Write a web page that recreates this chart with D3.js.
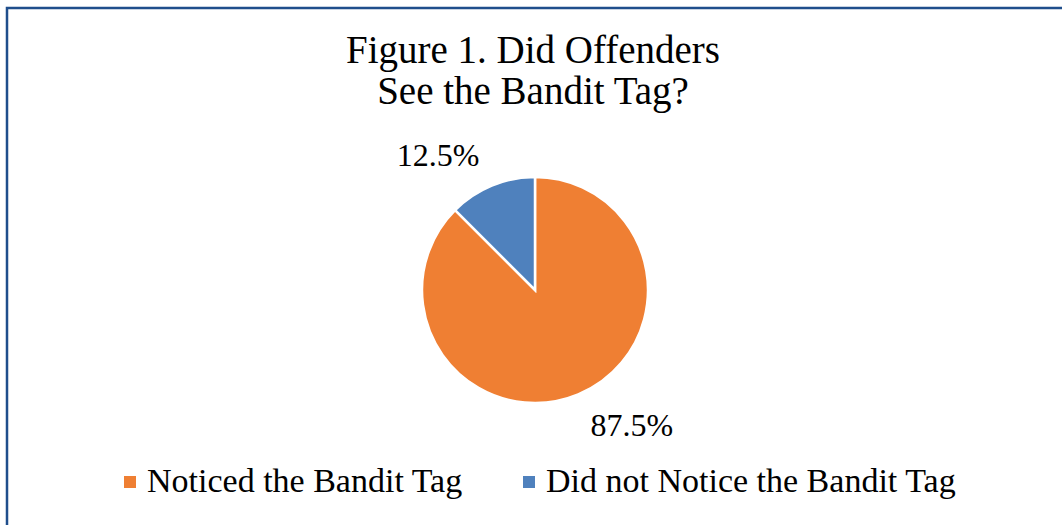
<!DOCTYPE html>
<html>
<head>
<meta charset="utf-8">
<script src="https://cdn.jsdelivr.net/npm/d3@7"></script>
<style>
  html, body { margin: 0; padding: 0; background: #fff; }
  svg { display: block; }
  text { font-family: 'Liberation Serif', 'Times New Roman', serif; fill: #000; }
</style>
</head>
<body>
<svg id="chart"></svg>
<script>
var categories = ['Noticed the Bandit Tag', 'Did not Notice the Bandit Tag'];
var shares = [87.5, 12.5];
var labels = ['87.5%', '12.5%'];
var titleLines = ['Figure 1. Did Offenders', 'See the Bandit Tag?'];
var colors = ['#EF7F33', '#4F81BD'];

var width = 1062, height = 525;
var cx = 535, cy = 290, radius = 113;

var svg = d3.select('#chart')
  .attr('width', width)
  .attr('height', height);

// chart frame (only top and left edges fall inside the picture)
svg.append('rect')
  .attr('x', 7)
  .attr('y', 8)
  .attr('width', width + 20)
  .attr('height', height + 20)
  .attr('fill', 'none')
  .attr('stroke', '#1F4E8C')
  .attr('stroke-width', 2.5);

svg.append('text')
  .attr('x', 533)
  .attr('y', 63)
  .attr('text-anchor', 'middle')
  .style('font-size', '39px')
  .selectAll('tspan')
  .data(titleLines)
  .enter()
  .append('tspan')
  .attr('x', 533)
  .attr('dy', function (d, i) { return i === 0 ? 0 : 41; })
  .text(function (d) { return d; });

var pie = d3.pie().sort(null).value(function (d) { return d; });
var arcs = pie(shares);
var arc = d3.arc().innerRadius(0).outerRadius(radius);
var labelArc = d3.arc().innerRadius(146).outerRadius(146);

var g = svg.append('g')
  .attr('transform', 'translate(' + cx + ',' + cy + ')');

g.selectAll('.slice')
  .data(arcs)
  .enter()
  .append('path')
  .attr('class', 'slice')
  .attr('d', arc)
  .attr('fill', function (d, i) { return colors[i]; })
  .attr('stroke', '#fff')
  .attr('stroke-width', 2.5)
  .attr('stroke-linejoin', 'miter');

g.selectAll('.pct')
  .data(arcs)
  .enter()
  .append('text')
  .attr('class', 'pct')
  .attr('transform', function (d) {
    var c = labelArc.centroid(d);
    // push label sideways, outside the pie edge
    var x = c[0] + (c[0] < 0 ? -41 : 41);
    return 'translate(' + x + ',' + c[1] + ')';
  })
  .attr('text-anchor', 'middle')
  .attr('dy', '0.35em')
  .style('font-size', '32px')
  .text(function (d, i) { return labels[i]; });

// legend
var legendX = [124, 523];
var legend = svg.selectAll('.legend')
  .data(categories)
  .enter()
  .append('g')
  .attr('class', 'legend')
  .attr('transform', function (d, i) { return 'translate(' + legendX[i] + ',476)'; });

legend.append('rect')
  .attr('width', 12)
  .attr('height', 12)
  .attr('fill', function (d, i) { return colors[i]; });

legend.append('text')
  .attr('x', 23)
  .attr('y', 16)
  .style('font-size', '34px')
  .text(function (d) { return d; });
</script>
</body>
</html>
